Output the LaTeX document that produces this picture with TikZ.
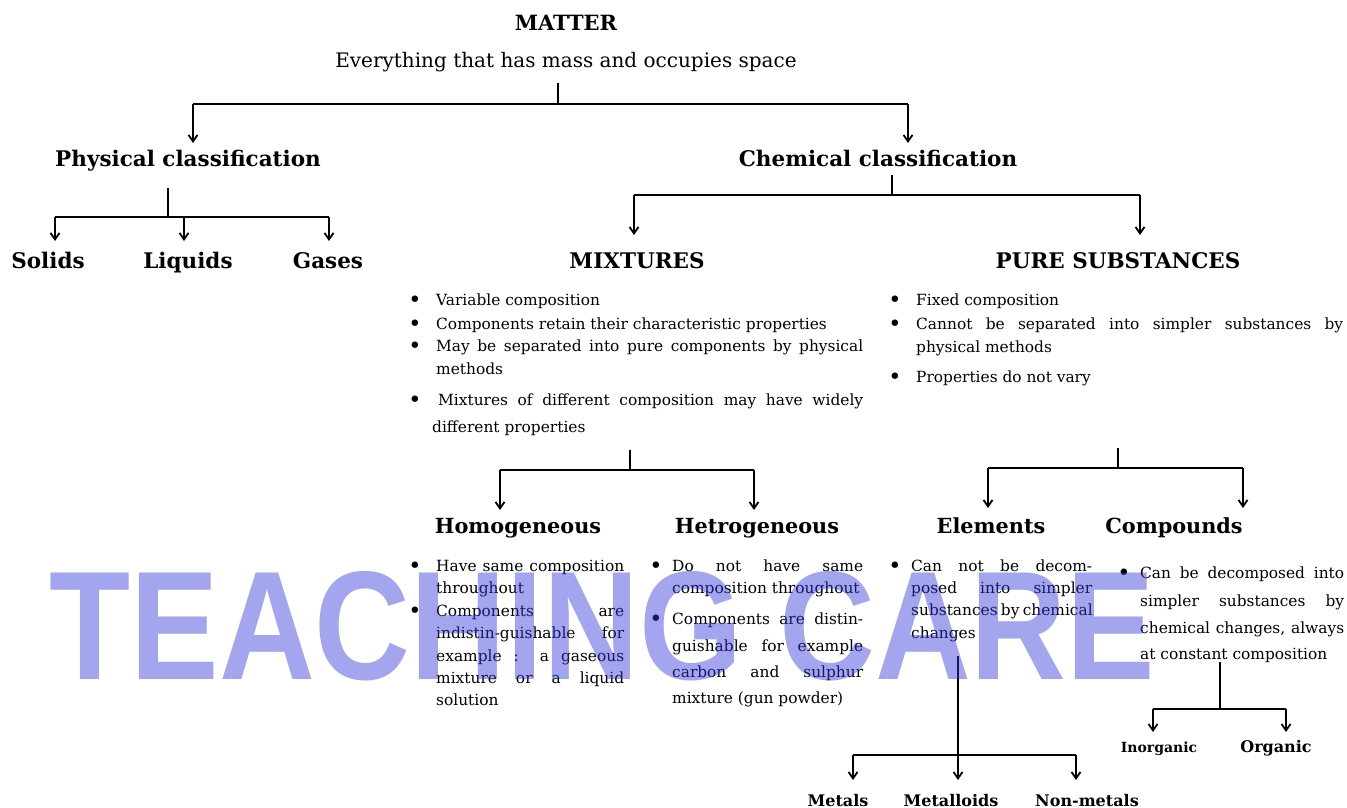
\documentclass[tikz,border=0pt]{standalone}
\usepackage{fontspec}
\setmainfont{DejaVu Serif}
\newfontfamily\wmfont{Liberation Sans}
\usetikzlibrary{arrows.meta}
\definecolor{wmblue}{RGB}{50,55,220}
\newcommand{\jl}[2]{\makebox[#1pt][s]{#2}}
\newcommand{\bigbul}{\raisebox{-2.5pt}{\scalebox{1.45}{•}}}
\begin{document}
\begin{tikzpicture}[x=1pt,y=-1pt,
 ln/.style={line width=1.8pt},
 arr/.style={line width=1.8pt,-{Straight Barb[length=6.5pt,width=9pt]}},
 head/.style={font=\bfseries\fontsize{21.5}{24}\selectfont, inner sep=0, anchor=base},
 head2/.style={font=\bfseries\fontsize{20.8}{24}\selectfont, inner sep=0, anchor=base},
 sub/.style={font=\bfseries\fontsize{16}{18}\selectfont, inner sep=0, anchor=base},
 txt/.style={font=\fontsize{15.4}{18}\selectfont, inner sep=0, anchor=base west},
 bul/.style={font=\fontsize{15.4}{18}\selectfont, inner sep=0, anchor=base},
]
\useasboundingbox (0,0) rectangle (1347,808);

% headings
\node[head, font=\bfseries\fontsize{21}{24}\selectfont] (matter) at (566,31) {MATTER};
\node[font=\fontsize{20}{22}\selectfont, inner sep=0, anchor=base] (def) at (566,67) {Everything that has mass and occupies space};
\node[head] (phys) at (188,166) {Physical classification};
\node[head] (chem) at (878,166) {Chemical classification};
\node[head] (sol) at (48,268) {Solids};
\node[head] (liq) at (188,268) {Liquids};
\node[head] (gas) at (328,268) {Gases};
\node[head] (mix) at (637,268) {MIXTURES};
\node[head] (pure) at (1118,268) {PURE SUBSTANCES};
\node[head2] (homo) at (518,533) {Homogeneous};
\node[head2] (hetr) at (757,533) {Hetrogeneous};
\node[head2] (elem) at (991,533) {Elements};
\node[head2] (comp) at (1174,533) {Compounds};
\node[sub, font=\bfseries\fontsize{14}{16}\selectfont] (inorg) at (1159,752) {Inorganic};
\node[sub] (org) at (1276,752) {Organic};
\node[sub] (met) at (838,806) {Metals};
\node[sub] (mtd) at (951,806) {Metalloids};
\node[sub] (nmet) at (1087,806) {Non-metals};

% mixtures
\node[bul] (mb1) at (415,305) {\bigbul};
\node[bul] (mb2) at (415,329) {\bigbul};
\node[bul] (mb3) at (415,351) {\bigbul};
\node[bul] (mb4) at (415,405) {\bigbul};
\node[txt] (m1) at (436,305) {Variable composition};
\node[txt] (m2) at (436,329) {Components retain their characteristic properties};
\node[txt] (m3a) at (436,351) {\jl{427}{May be separated into pure components by physical}};
\node[txt] (m3b) at (436,374) {methods};
\node[txt] (m4a) at (438,405) {\jl{425}{Mixtures of different composition may have widely}};
\node[txt] (m4b) at (432,432) {different properties};

% pure substances
\node[bul] (pb1) at (895,305) {\bigbul};
\node[bul] (pb2) at (895,329) {\bigbul};
\node[bul] (pb3) at (895,382) {\bigbul};
\node[txt] (p1) at (916,305) {Fixed composition};
\node[txt] (p2a) at (916,329) {\jl{427}{Cannot be separated into simpler substances by}};
\node[txt] (p2b) at (916,352) {physical methods};
\node[txt] (p3) at (916,382) {Properties do not vary};

% homogeneous
\node[bul] (hb1) at (415,571) {\bigbul};
\node[bul] (hb2) at (415,616) {\bigbul};
\node[txt] (h1a) at (436,571) {\jl{188}{Have same composition}};
\node[txt] (h1b) at (436,593) {throughout};
\node[txt] (h2a) at (436,616) {\jl{188}{Components are}};
\node[txt] (h2b) at (436,638) {\jl{188}{indistin-guishable for}};
\node[txt] (h2c) at (436,661) {\jl{188}{example : a gaseous}};
\node[txt] (h2d) at (436,683) {\jl{188}{mixture or a liquid}};
\node[txt] (h2e) at (436,705) {solution};

% hetrogeneous
\node[bul] (eb1) at (656,571) {\bigbul};
\node[bul] (eb2) at (656,624) {\bigbul};
\node[txt] (e1a) at (672,571) {\jl{191}{Do not have same}};
\node[txt] (e1b) at (672,593) {composition throughout};
\node[txt] (e2a) at (672,624) {\jl{191}{Components are distin-}};
\node[txt] (e2b) at (672,651) {\jl{191}{guishable for example}};
\node[txt] (e2c) at (672,677) {\jl{191}{carbon and sulphur}};
\node[txt] (e2d) at (672,703) {mixture (gun powder)};

% elements
\node[bul] (lb1) at (895,571) {\bigbul};
\node[txt] (l1a) at (911,571) {\jl{181}{Can not be decom-}};
\node[txt] (l1b) at (911,593) {\jl{181}{posed into simpler}};
\node[txt] (l1c) at (911,615) {\jl{181}{substances by chemical}};
\node[txt] (l1d) at (911,638) {changes};

% compounds
\node[bul] (cb1) at (1124,578) {\bigbul};
\node[txt] (c1a) at (1140,578) {\jl{204}{Can be decomposed into}};
\node[txt] (c1b) at (1140,606) {\jl{204}{simpler substances by}};
\node[txt] (c1c) at (1140,633) {\jl{204}{chemical changes, always}};
\node[txt] (c1d) at (1140,659) {at constant composition};

% connector coordinates
\coordinate (t1s) at (558,83);  \coordinate (t1j) at (558,104);
\coordinate (t1l) at (193,104); \coordinate (t1r) at (908,104);
\coordinate (t1a) at (193,143); \coordinate (t1b) at (908,143);

\coordinate (t2s) at (168,188); \coordinate (t2j) at (168,217);
\coordinate (t2l) at (55,217);  \coordinate (t2m) at (184,217); \coordinate (t2r) at (329,217);
\coordinate (t2a) at (55,241);  \coordinate (t2b) at (184,241); \coordinate (t2c) at (329,241);

\coordinate (t3s) at (892,175); \coordinate (t3j) at (892,195);
\coordinate (t3l) at (634,195); \coordinate (t3r) at (1140,195);
\coordinate (t3a) at (634,235); \coordinate (t3b) at (1140,235);

\coordinate (t4s) at (630,450); \coordinate (t4j) at (630,470);
\coordinate (t4l) at (500,470); \coordinate (t4r) at (754,470);
\coordinate (t4a) at (500,510); \coordinate (t4b) at (754,510);

\coordinate (t5s) at (1118,448); \coordinate (t5j) at (1118,468);
\coordinate (t5l) at (988,468);  \coordinate (t5r) at (1243,468);
\coordinate (t5a) at (988,508);  \coordinate (t5b) at (1243,508);

\coordinate (t6s) at (958,656); \coordinate (t6j) at (958,755);
\coordinate (t6l) at (853,755); \coordinate (t6r) at (1076,755);
\coordinate (t6a) at (853,780); \coordinate (t6b) at (958,780); \coordinate (t6c) at (1076,780);

\coordinate (t7s) at (1220,662); \coordinate (t7j) at (1220,709);
\coordinate (t7l) at (1153,709); \coordinate (t7r) at (1286,709);
\coordinate (t7a) at (1153,732); \coordinate (t7b) at (1286,732);

% connectors
\draw[ln] (t1s) -- (t1j); \draw[ln] (t1l) -- (t1r);
\draw[arr] (t1l) -- (t1a); \draw[arr] (t1r) -- (t1b);

\draw[ln] (t2s) -- (t2j); \draw[ln] (t2l) -- (t2r);
\draw[arr] (t2l) -- (t2a); \draw[arr] (t2m) -- (t2b); \draw[arr] (t2r) -- (t2c);

\draw[ln] (t3s) -- (t3j); \draw[ln] (t3l) -- (t3r);
\draw[arr] (t3l) -- (t3a); \draw[arr] (t3r) -- (t3b);

\draw[ln] (t4s) -- (t4j); \draw[ln] (t4l) -- (t4r);
\draw[arr] (t4l) -- (t4a); \draw[arr] (t4r) -- (t4b);

\draw[ln] (t5s) -- (t5j); \draw[ln] (t5l) -- (t5r);
\draw[arr] (t5l) -- (t5a); \draw[arr] (t5r) -- (t5b);

\draw[ln] (t6s) -- (t6j); \draw[ln] (t6l) -- (t6r);
\draw[arr] (t6l) -- (t6a); \draw[arr] (t6j) -- (t6b); \draw[arr] (t6r) -- (t6c);

\draw[ln] (t7s) -- (t7j); \draw[ln] (t7l) -- (t7r);
\draw[arr] (t7l) -- (t7a); \draw[arr] (t7r) -- (t7b);

% watermark
\node[text=wmblue, text opacity=0.45, inner sep=0] (wm) at (602.5,626)
  {\resizebox{1105pt}{108pt}{\wmfont\bfseries TEACHING CARE}};
\end{tikzpicture}
\end{document}
